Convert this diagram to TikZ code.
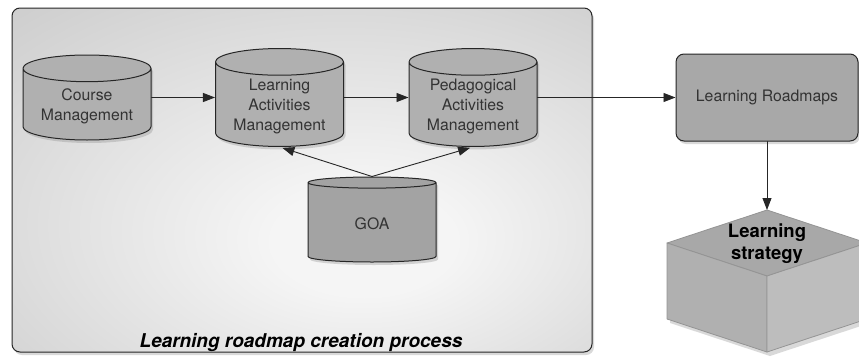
\documentclass[tikz,border=0pt]{standalone}
\usepackage{fontspec}
\setmainfont{TeX Gyre Heros}
\usetikzlibrary{arrows.meta,positioning,shapes.geometric,shadows}
\definecolor{glowin}{gray}{0.96}
\definecolor{glowout}{gray}{0.74}
\definecolor{dbfill}{gray}{0.69}
\definecolor{goafill}{gray}{0.64}
\definecolor{mapfill}{gray}{0.66}
\definecolor{edgegray}{gray}{0.15}
\definecolor{cubeedge}{gray}{0.58}
\definecolor{labelgray}{gray}{0.2}
\pgfdeclareradialshading{boxglow}{\pgfpoint{6bp}{-10bp}}{color(0bp)=(glowin); color(8bp)=(glowin); color(55bp)=(glowout); color(75bp)=(glowout)}
\tikzset{
  softshadow/.style={drop shadow={shadow xshift=2pt,shadow yshift=-3pt,opacity=0.3}},
  framebox/.style={rectangle,rounded corners=8pt,draw=edgegray,line width=1pt,
             shading=boxglow,minimum width=580pt,minimum height=344pt,softshadow},
  dbnode/.style={cylinder,shape border rotate=90,aspect=0.27,draw=edgegray,line width=1pt,
             fill=dbfill,minimum width=128pt,minimum height=85pt,align=center,
             anchor=shape center,text=labelgray,font=\fontsize{15.8}{20}\selectfont,softshadow},
  mapbox/.style={rectangle,rounded corners=8pt,draw=edgegray,line width=1pt,fill=mapfill,
             minimum width=182pt,minimum height=87pt,text=labelgray,
             font=\fontsize{15.8}{20}\selectfont,softshadow},
  flowarrow/.style={-{Triangle[length=12pt,width=9pt]},line width=0.9pt,draw=edgegray},
  every picture/.style={line cap=round,line join=round}}

\begin{document}
\begin{tikzpicture}[x=1pt,y=-1pt]
  \useasboundingbox (0,0) rectangle (859,356);
  \clip (0,0) rectangle (859,356);
  % process frame
  \node[framebox] (proc) at (302,180) {};
  \node[anchor=base,font=\fontsize{19}{22}\selectfont\bfseries\itshape] (proctitle) at (301,347) {Learning roadmap creation process};
  % stores
  \node[dbnode] (course) at (87,97.5) {Course\\Management};
  \node[dbnode] (lam) at (279.5,97.5) {Learning\\Activities\\Management};
  \node[dbnode] (pam) at (473,97.5) {Pedagogical\\Activities\\Management};
  \node[dbnode,fill=goafill] (goa) at (372,219.5) {GOA};
  \node[mapbox] (maps) at (767,97.5) {Learning Roadmaps};
  % strategy cube
  \coordinate (cubetop) at (767,210);
  \fill[black,opacity=0.15] (670,247) -- (770,214) -- (870,247) -- (870,323) -- (770,356) -- (670,323) -- cycle;
  \filldraw[draw=cubeedge,fill=gray!68,line width=0.8pt] (cubetop) -- (667,243) -- (767,276) -- (867,243) -- cycle;
  \filldraw[draw=cubeedge,fill=gray!62,line width=0.8pt] (667,243) -- (767,276) -- (767,352) -- (667,319) -- cycle;
  \filldraw[draw=cubeedge,fill=gray!52,line width=0.8pt] (767,276) -- (867,243) -- (867,319) -- (767,352) -- cycle;
  \node[align=center,font=\fontsize{18.5}{22}\selectfont\bfseries] (strategy) at (767,244) {Learning\\strategy};
  % flows
  \draw[flowarrow] (course.east |- course.shape center) -- (lam.west |- lam.shape center);
  \draw[flowarrow] (lam.east |- lam.shape center) -- (pam.west |- pam.shape center);
  \draw[flowarrow] (pam.east |- pam.shape center) -- (maps.west);
  \draw[flowarrow,shorten >=3pt] (goa.north) -- (lam.south);
  \draw[flowarrow,shorten >=3pt] (goa.north) -- (pam.south);
  \draw[flowarrow] (maps.south) -- (cubetop);
\end{tikzpicture}
\end{document}
